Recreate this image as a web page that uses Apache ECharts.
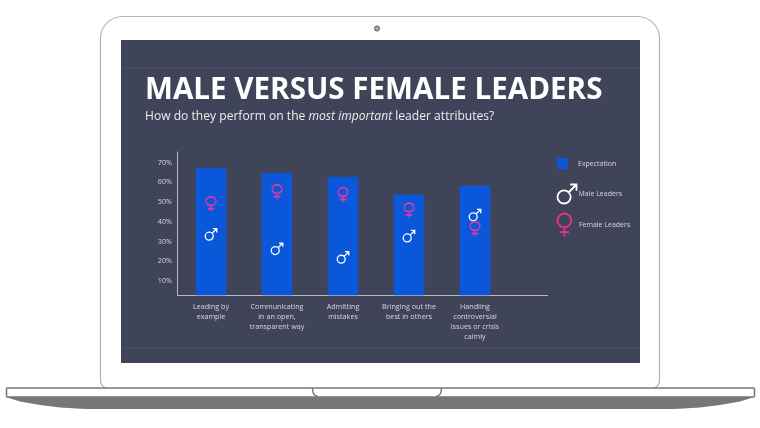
<!DOCTYPE html>
<html><head><meta charset="utf-8">
<style>html,body{margin:0;padding:0;background:#fff}#c{width:760px;height:428px}</style>
<script src="https://cdn.jsdelivr.net/npm/echarts@6/dist/echarts.min.js"></script>
</head><body><div id="c"></div>
<script>
const categories = ['Leading by\nexample','Communicating\nin an open,\ntransparent way','Admitting\nmistakes','Bringing out the\nbest in others','Handling\ncontroversial\nissues or crisis\ncalmly'];
const expectation = [67.3,64.8,62.9,53.9,58.3];
const maleLeaders = [33.6,26.3,21.9,32.7,43.4];
const femaleLeaders = [49,55.1,53.6,45.8,36.3];
const yTicks = [10,20,30,40,50,60,70];
const MALE = 'path://M9.5 9.2A4.5 4.5 0 1 1 .5 9.2A4.5 4.5 0 1 1 9.5 9.2ZM8.2 6L13.5 .7M9.2 .7L13.5 .7L13.5 5';
const FEMALE = 'path://M9.5 5A4.5 4.5 0 1 1 .5 5A4.5 4.5 0 1 1 9.5 5ZM5 9.5L5 15.5M2 12.7L8 12.7';
const txt = '#d6d7dc', font = '"Open Sans"';
const chart = echarts.init(document.getElementById('c'), null, {renderer:'canvas'});
const grey = '#777777';
chart.setOption({
  animation:false,
  backgroundColor:'#ffffff',
  textStyle:{fontFamily:font},
  graphic:[
    {type:'rect',z:0,shape:{x:100.5,y:16.5,width:559,height:372,r:[22,22,8,8]},style:{fill:'#fff',stroke:'#b4b4b4',lineWidth:1.2}},
    {type:'rect',z:0,shape:{x:121,y:40,width:519,height:323},style:{fill:'#404458'}},
    {type:'line',z:0,shape:{x1:121,y1:68,x2:640,y2:68},style:{stroke:'#4c5065',lineWidth:1}},
    {type:'line',z:0,shape:{x1:121,y1:348,x2:640,y2:348},style:{stroke:'#4c5065',lineWidth:1}},
    {type:'circle',z:0,shape:{cx:377,cy:28.5,r:2.6},style:{fill:'#a8a8a8',stroke:'#666',lineWidth:1}},
    {type:'polygon',z:0,shape:{points:[[6,397],[754,397],[740,401.5],[720,405],[700,407.5],[675,409],[85,409],[60,407.5],[40,405],[20,401.5]]},style:{fill:grey}},
    {type:'rect',z:1,shape:{x:6.5,y:388,width:748,height:9,r:1},style:{fill:'#fff',stroke:grey,lineWidth:1.6}},
    {type:'bezierCurve',z:1,shape:{x1:312.5,y1:388,cpx1:312.5,cpy1:393,cpx2:314,cpy2:396,x2:318,y2:396.5},style:{fill:'none',stroke:grey,lineWidth:1.4}},
    {type:'bezierCurve',z:1,shape:{x1:441.5,y1:388,cpx1:441.5,cpy1:393,cpx2:440,cpy2:396,x2:436,y2:396.5},style:{fill:'none',stroke:grey,lineWidth:1.4}},
    {type:'line',z:3,shape:{x1:508,y1:295.5,x2:548,y2:295.5},style:{stroke:'#b8b9c0',lineWidth:1.2}}
  ],
  title:[
    {left:140,top:71,text:'MALE VERSUS FEMALE LEADERS',textStyle:{color:'#fff',fontFamily:font,fontWeight:700,fontSize:29.6}},
    {left:140,top:106,text:'How do they perform on the {i|most important} leader attributes?',
     textStyle:{color:'#eceded',fontFamily:font,fontWeight:400,fontSize:12.1,rich:{i:{fontStyle:'italic',fontFamily:font,fontSize:12.1,color:'#eceded'}}}}
  ],
  legend:[
    {left:557,top:158,data:[{name:'Expectation',icon:'rect'}],itemWidth:11,itemHeight:11,itemGap:0,padding:0,textStyle:{color:txt,fontSize:7,padding:[0,0,0,5]}},
    {left:555,top:182,data:[{name:'Male Leaders',icon:MALE,itemStyle:{color:'none',borderColor:'#fff',borderWidth:1.8}}],itemWidth:19,itemHeight:19,padding:0,textStyle:{color:txt,fontSize:7,padding:[0,0,0,-3]}},
    {left:555,top:211,data:[{name:'Female Leaders',icon:FEMALE,itemStyle:{color:'none',borderColor:'#e8308f',borderWidth:1.8}}],itemWidth:15,itemHeight:23,padding:0,textStyle:{color:txt,fontSize:7,padding:[0,0,0,2]}}
  ],
  grid:{left:178,width:330,top:152,bottom:428-295.3,containLabel:false},
  xAxis:{type:'category',data:categories,axisTick:{show:false},
    axisLine:{lineStyle:{color:'#b8b9c0',width:1.2}},
    axisLabel:{color:txt,fontSize:7.2,lineHeight:10,margin:7,interval:0}},
  yAxis:{type:'value',min:2.7,max:75.4,offset:1,splitLine:{show:false},axisTick:{show:false},
    axisLine:{show:true,lineStyle:{color:'#b8b9c0',width:1}},
    axisLabel:{color:txt,fontSize:7.2,margin:5,customValues:yTicks,formatter:v=>v+'%'}},
  series:[
    {name:'Expectation',type:'bar',data:expectation,barWidth:30.5,itemStyle:{color:'#0b57d9'}},
    {name:'Male Leaders',type:'scatter',data:maleLeaders,symbol:MALE,symbolSize:[11.5,11.5],itemStyle:{color:'none',borderColor:'#fff',borderWidth:1.3,opacity:1}},
    {name:'Female Leaders',type:'scatter',data:femaleLeaders,symbol:FEMALE,symbolSize:[10,14.5],itemStyle:{color:'none',borderColor:'#d93aa6',borderWidth:1.5,opacity:1}}
  ]
});
</script></body></html>
